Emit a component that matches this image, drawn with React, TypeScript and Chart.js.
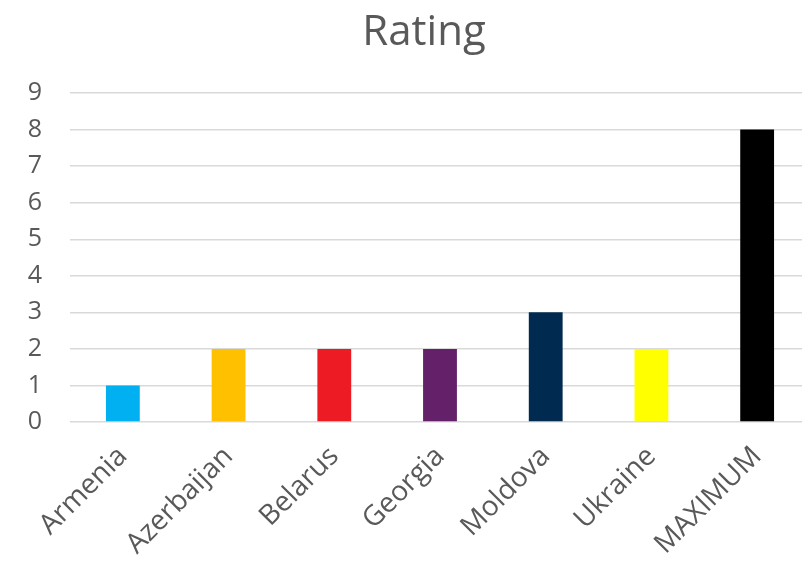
import React, { useEffect, useRef } from "react";
import { Chart, registerables } from "chart.js";

Chart.register(...registerables);

const categories = ["Armenia", "Azerbaijan", "Belarus", "Georgia", "Moldova", "Ukraine", "MAXIMUM"];
const ratings = [1, 2, 2, 2, 3, 2, 8];
const barColors = ["#00b0f0", "#ffc000", "#ed1c24", "#642068", "#002a4f", "#ffff00", "#000000"];
const yTicks = [0, 1, 2, 3, 4, 5, 6, 7, 8, 9];
const titleText = "Rating";

const FONT = "'Open Sans', 'DejaVu Sans', sans-serif";
const GREY = "#595959";

const titlePlugin = {
  id: "customTitle",
  afterDraw(chart: any) {
    const ctx = chart.ctx;
    ctx.save();
    ctx.fillStyle = GREY;
    ctx.font = `42px ${FONT}`;
    ctx.textAlign = "center";
    ctx.textBaseline = "alphabetic";
    ctx.fillText(titleText, 424, 45);
    ctx.restore();
  },
};

export default function App() {
  const ref = useRef<HTMLCanvasElement>(null);
  useEffect(() => {
    if (!ref.current) return;
    const chart = new Chart(ref.current, {
      type: "bar",
      data: {
        labels: categories,
        datasets: [
          {
            label: titleText,
            data: ratings,
            backgroundColor: barColors,
            borderWidth: 0,
            barPercentage: 0.32,
            categoryPercentage: 1,
          },
        ],
      },
      options: {
        animation: false,
        responsive: false,
        maintainAspectRatio: false,
        layout: { padding: { top: 93, left: 0, right: 2, bottom: 0 } },
        plugins: {
          legend: { display: false },
          title: { display: false },
          tooltip: { enabled: false },
        },
        scales: {
          x: {
            grid: { display: false, drawTicks: false },
            border: { display: false },
            afterFit: (scale: any) => {
              scale.height = 146;
              scale.paddingLeft = 0;
              scale.paddingRight = 0;
            },
            ticks: {
              color: GREY,
              font: { family: FONT, size: 28 },
              minRotation: 45,
              maxRotation: 45,
              padding: 18,
              autoSkip: false,
            },
          },
          y: {
            min: 0,
            max: 9,
            afterBuildTicks: (scale: any) => {
              scale.ticks = yTicks.map((v) => ({ value: v }));
            },
            afterFit: (scale: any) => {
              scale.width = 70;
            },
            grid: { color: "#d9d9d9", lineWidth: 1.4, drawTicks: false },
            border: { display: false },
            ticks: {
              color: GREY,
              font: { family: FONT, size: 25 },
              padding: 28,
            },
          },
        },
      },
      plugins: [titlePlugin],
    });
    return () => chart.destroy();
  }, []);
  return (
    <div style={{ position: "absolute", left: 0, top: 0, width: 802, height: 568, overflow: "hidden", background: "#fff" }}>
      <canvas ref={ref} width={812} height={568} style={{ display: "block" }} />
    </div>
  );
}
